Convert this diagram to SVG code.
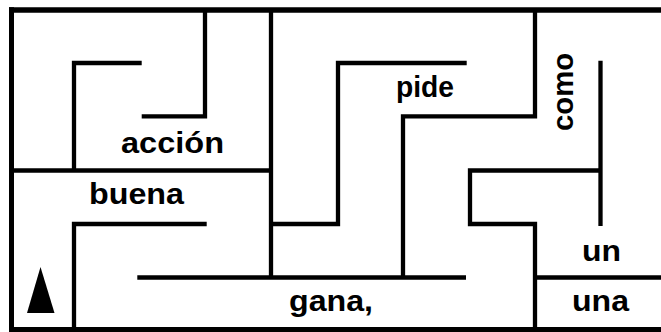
<svg xmlns="http://www.w3.org/2000/svg" width="661" height="332" viewBox="0 0 661 332">
<style>
.border{fill:none;stroke:#000;stroke-linecap:butt}
.wall{fill:none;stroke:#000;stroke-width:4.3;stroke-linecap:butt;stroke-linejoin:miter}
.lbl{font-family:"Liberation Sans",Arial,sans-serif;font-weight:bold;font-size:30px;fill:#000}
</style>
<rect width="661" height="332" fill="#fff"/>
<g id="frame">
<line class="border" x1="9" y1="10" x2="661" y2="10" stroke-width="5.5"/>
<line class="border" x1="11.5" y1="7.3" x2="11.5" y2="332" stroke-width="5"/>
<line class="border" x1="9" y1="329.5" x2="661" y2="329.5" stroke-width="5"/>
</g>
<g id="walls">
<path class="wall" d="M141.7,116.3 H205 V10"/>
<path class="wall" d="M141.7,63 H74 V170.5"/>
<path class="wall" d="M271,10 V277.5"/>
<path class="wall" d="M11.5,170.5 H271"/>
<path class="wall" d="M206.7,224 H74 V329.5"/>
<path class="wall" d="M271,224 H338 V63 H466.7"/>
<path class="wall" d="M137.3,277.5 H466"/>
<path class="wall" d="M403,277.5 V116.3 H535 V10"/>
<path class="wall" d="M600.5,60.7 V226"/>
<path class="wall" d="M600.5,170.5 H470 V224 H535 V329.5"/>
<path class="wall" d="M535,277.5 H661"/>
</g>
<g id="labels">
<text class="lbl" x="121" y="153" textLength="103" lengthAdjust="spacingAndGlyphs">acción</text>
<text class="lbl" x="89" y="204" textLength="95" lengthAdjust="spacingAndGlyphs">buena</text>
<text class="lbl" x="396" y="97" textLength="58" lengthAdjust="spacingAndGlyphs">pide</text>
<text class="lbl" x="289" y="311" textLength="84" lengthAdjust="spacingAndGlyphs">gana,</text>
<text class="lbl" x="582" y="261" textLength="39" lengthAdjust="spacingAndGlyphs">un</text>
<text class="lbl" x="572" y="311" textLength="57" lengthAdjust="spacingAndGlyphs">una</text>
<text class="lbl" transform="translate(573,131) rotate(-90)" x="0" y="0" textLength="78" lengthAdjust="spacingAndGlyphs">como</text>
</g>
<g id="start">
<polygon points="40.5,267 27,313 54.5,313" fill="#000"/>
</g>
</svg>
